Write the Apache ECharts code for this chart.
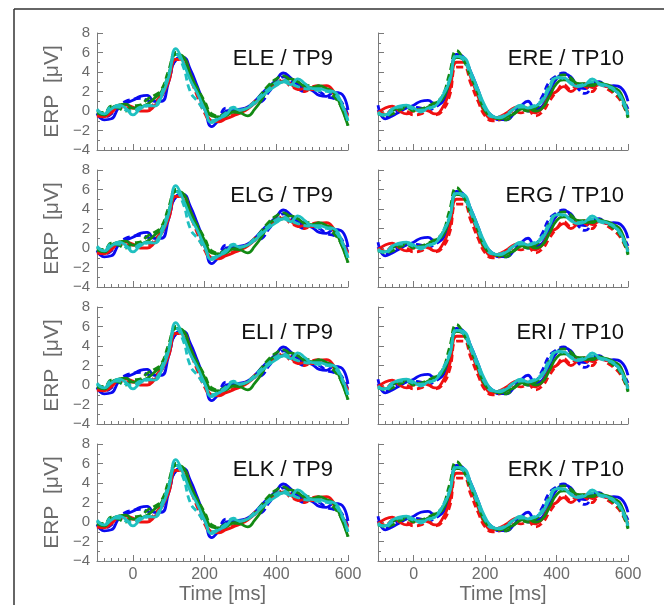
<!DOCTYPE html>
<html>
<head>
<meta charset="utf-8">
<script src="https://cdn.jsdelivr.net/npm/echarts@6/dist/echarts.min.js"></script>
<style>
  html, body { margin: 0; padding: 0; background: #fff; overflow: hidden; }
  #chart { width: 664px; height: 605px; }
</style>
</head>
<body>
<div id="chart"></div>
<script>
// time axis samples [ms]
const timeMs = [-100, -80, -60, -40, -20, 0, 20, 40, 60, 80, 100, 120, 140, 160, 180, 200, 220, 240,
  260, 280, 300, 320, 340, 360, 380, 400, 420, 440, 460, 480, 500, 520, 540, 560, 580, 600];

const leftTitles = ["ELE / TP9", "ELG / TP9", "ELI / TP9", "ELK / TP9"];
const rightTitles = ["ERE / TP10", "ERG / TP10", "ERI / TP10", "ERK / TP10"];
const xTickLabels = [0, 200, 400, 600];
const yTickLabels = [-4, -2, 0, 2, 4, 6, 8];

// TP9 (left column) waveforms, uV
const tp9Blue = [-0.3, -0.9, -0.8, 0.3, 0.8, 1.1, 1.5, 1.6, 1.0, 1.0, 3.0, 5.3, 5.5, 4.3, 2.5, 0.5, -1.6, -0.9,
  0.0, 0.1, 0.2, 0.4, 1.0, 1.8, 2.5, 3.2, 3.9, 3.4, 2.7, 2.3, 2.1, 1.6, 1.5, 1.9, 1.8, 0.1];
const tp9BlueDash = [-0.2, -0.6, -0.3, 0.5, 1.0, 1.2, 1.3, 1.1, 0.8, 1.5, 3.2, 5.2, 5.4, 4.0, 2.0, 0.2, -1.2, -0.6,
  0.3, 0.2, 0.0, 0.3, 0.8, 1.0, 2.0, 2.8, 3.5, 3.0, 2.3, 2.0, 2.3, 2.0, 1.5, 1.3, 1.0, -0.5];
const tp9Red = [-0.5, -0.6, -0.2, 0.5, 0.6, 0.4, 0.0, 0.0, 0.5, 1.5, 3.0, 5.3, 5.3, 3.8, 2.0, 0.3, -1.0, -1.1,
  -0.8, -0.5, -0.2, 0.2, 0.8, 1.5, 2.2, 2.8, 3.1, 2.8, 2.2, 2.3, 2.2, 2.5, 2.6, 2.0, 0.8, -0.5];
const tp9RedDash = [-0.5, -0.4, 0.0, 0.5, 0.3, 0.3, 0.5, 0.3, 0.8, 1.8, 3.5, 5.3, 5.0, 3.3, 1.5, -0.2, -1.1, -0.9,
  -0.7, -0.4, -0.1, 0.4, 1.0, 1.6, 2.3, 2.9, 3.2, 2.5, 2.3, 2.0, 2.5, 2.6, 2.2, 1.8, 0.8, -0.8];
const tp9Green = [-0.2, -0.4, 0.3, 0.6, 0.7, 0.3, 0.4, 0.7, 1.3, 2.0, 3.8, 5.8, 5.6, 3.8, 2.2, 0.8, -0.5, -0.6,
  -0.5, -0.1, -0.2, -0.5, 0.2, 1.2, 2.5, 2.9, 3.0, 3.3, 3.0, 2.5, 2.4, 2.6, 2.3, 1.9, 0.5, -1.5];
const tp9GreenDash = [0.0, -0.2, 0.5, 0.3, 0.0, 0.5, 0.6, 1.2, 1.6, 2.2, 4.2, 6.0, 5.2, 3.5, 2.3, 1.0, -0.3, -0.5,
  -0.2, -0.1, 0.0, 0.3, 0.9, 1.8, 2.7, 3.3, 3.6, 3.2, 3.0, 2.7, 2.5, 2.3, 2.2, 1.5, 0.5, -1.5];
const tp9Cyan = [0.1, -0.3, 0.2, 0.6, 0.3, -0.4, 0.2, 0.6, 0.5, 1.5, 3.5, 6.4, 5.0, 3.2, 1.8, 0.2, -1.2, -0.8,
  -0.4, 0.3, 0.1, 0.3, 0.8, 1.5, 2.1, 2.6, 3.0, 2.7, 3.3, 2.8, 2.3, 2.3, 2.1, 2.0, 1.0, -1.0];
const tp9CyanDash = [0.2, -0.3, 0.4, 0.4, 0.1, 0.0, 0.4, 0.5, 0.6, 1.8, 3.8, 5.8, 4.6, 2.0, 1.0, 0.0, -1.0, -0.7,
  -0.2, 0.4, 0.1, 0.4, 1.0, 1.7, 2.3, 2.9, 3.2, 2.8, 2.5, 2.3, 2.2, 2.1, 2.0, 1.8, 0.8, -1.0];

// TP10 (right column) waveforms, uV
const tp10Blue = [0.6, -0.8, -0.5, -0.1, 0.3, 0.6, 1.0, 1.1, 0.7, 0.9, 2.5, 5.8, 5.5, 4.0, 2.2, 0.3, -0.5, -0.8,
  -0.9, -0.3, 0.5, 1.0, 0.2, 0.5, 2.0, 3.3, 3.8, 3.5, 2.5, 2.3, 2.9, 3.0, 2.5, 2.6, 2.4, 1.0];
const tp10BlueDash = [0.1, -0.6, -0.2, 0.2, 0.5, 0.4, 0.3, 0.1, 0.4, 1.0, 2.8, 5.5, 5.3, 3.6, 1.8, 0.2, -0.6, -0.9,
  -0.5, 0.2, 0.3, 0.0, 0.3, 1.5, 3.0, 3.6, 3.9, 3.3, 2.3, 1.8, 2.4, 2.8, 2.6, 2.2, 1.5, 0.2];
const tp10Red = [-0.2, 0.3, 0.5, 0.0, -0.3, 0.0, 0.2, 0.0, -0.3, 0.3, 2.0, 5.0, 5.0, 3.4, 1.5, -0.2, -0.8, -0.6,
  -0.2, 0.3, 0.5, 0.2, -0.2, 0.3, 1.5, 2.0, 2.5, 2.0, 2.5, 2.8, 2.4, 2.7, 2.5, 2.3, 1.5, -0.2];
const tp10RedDash = [0.0, -0.3, 0.2, 0.4, 0.0, -0.4, -0.3, 0.1, -0.4, 0.0, 1.5, 4.5, 4.5, 2.8, 1.0, -0.5, -1.0, -0.9,
  -0.3, 0.0, -0.2, 0.1, -0.5, -0.1, 1.0, 2.0, 2.7, 2.2, 2.8, 2.5, 2.0, 2.8, 2.3, 1.8, 1.0, -0.5];
const tp10Green = [-0.3, -0.4, 0.0, 0.4, 0.5, 0.2, 0.1, 0.4, 0.8, 1.2, 3.0, 5.5, 5.3, 3.8, 1.8, 0.0, -0.6, -0.8,
  -0.6, -0.3, 0.2, 0.3, 0.0, 0.3, 1.5, 2.8, 3.2, 3.1, 2.8, 2.6, 2.7, 2.8, 2.7, 2.4, 1.8, -0.6];
const tp10GreenDash = [-0.2, -0.5, -0.3, 0.1, 0.3, 0.0, 0.2, 0.5, 0.9, 1.5, 3.8, 6.2, 5.2, 3.5, 2.0, 0.2, -0.5, -0.8,
  -0.9, -0.3, 0.1, 0.0, 0.3, 1.0, 2.5, 3.5, 3.7, 3.4, 2.8, 2.8, 2.6, 2.9, 2.5, 2.0, 1.2, -0.7];
const tp10Cyan = [-0.3, -0.4, 0.2, 0.5, 0.6, 0.3, -0.1, 0.3, 0.5, 1.5, 3.0, 5.6, 5.5, 4.0, 2.2, 0.5, -0.5, -0.7,
  -0.4, 0.2, 0.6, 0.3, 0.5, 1.0, 2.3, 3.4, 3.4, 2.8, 2.5, 2.7, 3.3, 2.8, 2.6, 2.2, 1.5, -0.3];
const tp10CyanDash = [-0.1, -0.5, 0.0, 0.4, 0.4, 0.2, 0.1, 0.2, 0.6, 1.6, 3.2, 5.7, 5.2, 3.6, 1.8, 0.2, -0.6, -0.6,
  -0.3, 0.2, 0.4, 0.4, 0.6, 1.2, 2.6, 3.5, 3.3, 2.9, 2.6, 2.8, 3.0, 2.7, 2.5, 2.3, 1.3, -0.4];

const lineColors = ["#0a0af0", "#0a0af0", "#f01010", "#f01010", "#138a13", "#138a13", "#1fc0c0", "#1fc0c0"];
const lineDashed = [false, true, false, true, false, true, false, true];
const tp9Lines = [tp9Blue, tp9BlueDash, tp9Red, tp9RedDash, tp9Green, tp9GreenDash, tp9Cyan, tp9CyanDash];
const tp10Lines = [tp10Blue, tp10BlueDash, tp10Red, tp10RedDash, tp10Green, tp10GreenDash, tp10Cyan, tp10CyanDash];

const FONT = "Liberation Sans";
const AXIS_GRAY = "#7a7a7a";
const LABEL_GRAY = "#6b6b6b";

const grids = [], xAxes = [], yAxes = [], series = [], titles = [];

for (let r = 0; r < 4; r++) {
  for (let c = 0; c < 2; c++) {
    const g = grids.length;
    const top = 33 + 137 * r;
    const isLeft = c === 0;
    const isBottom = r === 3;
    grids.push({ left: isLeft ? 97 : 378, top: top, width: isLeft ? 251 : 250, height: 117 });

    // main x axis with small ticks every 20 ms
    xAxes.push({
      gridIndex: g, type: "value", min: -100, max: 600, interval: 20, position: "bottom",
      axisLine: { onZero: false, lineStyle: { color: AXIS_GRAY, width: 1 } },
      axisTick: { inside: true, length: 3, lineStyle: { color: AXIS_GRAY } },
      splitLine: { show: false },
      axisLabel: {
        show: isBottom, customValues: xTickLabels, margin: 6,
        color: LABEL_GRAY, fontSize: 16, fontFamily: FONT
      },
      name: isBottom ? "Time [ms]" : "", nameLocation: "middle", nameGap: 23,
      nameTextStyle: { color: LABEL_GRAY, fontSize: 20, fontFamily: FONT }
    });
    // overlay axis for the longer major ticks
    xAxes.push({
      gridIndex: g, type: "value", min: -100, max: 600, position: "bottom",
      axisLine: { show: false, onZero: false },
      axisTick: { inside: true, length: 6, customValues: xTickLabels, lineStyle: { color: AXIS_GRAY } },
      axisLabel: { show: false }, splitLine: { show: false }
    });

    yAxes.push({
      gridIndex: g, type: "value", min: -4, max: 8, interval: 2,
      axisLine: { show: true, onZero: false, lineStyle: { color: AXIS_GRAY, width: 1 } },
      axisTick: { show: true, inside: true, length: 6, lineStyle: { color: AXIS_GRAY } },
      minorTick: { show: true, splitNumber: 2, length: 3, lineStyle: { color: AXIS_GRAY } },
      splitLine: { show: false },
      axisLabel: {
        show: isLeft, margin: 7, color: LABEL_GRAY, fontSize: 15, fontFamily: FONT,
        formatter: (v) => String(v).replace("-", "\u2212")
      },
      name: isLeft ? "ERP  [\u03bcV]" : "", nameLocation: "middle", nameGap: 34,
      nameTextStyle: { color: LABEL_GRAY, fontSize: 21, fontFamily: FONT }
    });

    const lines = isLeft ? tp9Lines : tp10Lines;
    lines.forEach((vals, i) => {
      series.push({
        type: "line", xAxisIndex: 2 * g, yAxisIndex: g,
        data: timeMs.map((t, k) => [t, vals[k]]),
        showSymbol: false, smooth: 0.5, silent: true,
        lineStyle: { color: lineColors[i], width: 2.8, type: lineDashed[i] ? [7, 4] : "solid" }
      });
    });

    titles.push({
      text: isLeft ? leftTitles[r] : rightTitles[r],
      right: isLeft ? 331 : 40, top: top + 15, padding: 0,
      textStyle: { color: "#111", fontSize: 22, fontWeight: "normal", fontFamily: FONT }
    });
  }
}

const myChart = echarts.init(document.getElementById("chart"));
myChart.setOption({
  animation: false,
  backgroundColor: "#fff",
  title: titles,
  grid: grids,
  xAxis: xAxes,
  yAxis: yAxes,
  series: series,
  graphic: [
    { type: "line", shape: { x1: 14, y1: 9, x2: 664, y2: 9 }, style: { stroke: "#333", lineWidth: 1.5 } },
    { type: "line", shape: { x1: 14, y1: 9, x2: 14, y2: 605 }, style: { stroke: "#333", lineWidth: 1.5 } }
  ]
});
window.addEventListener("resize", function () {
  myChart.resize();
});
</script>
</body>
</html>
